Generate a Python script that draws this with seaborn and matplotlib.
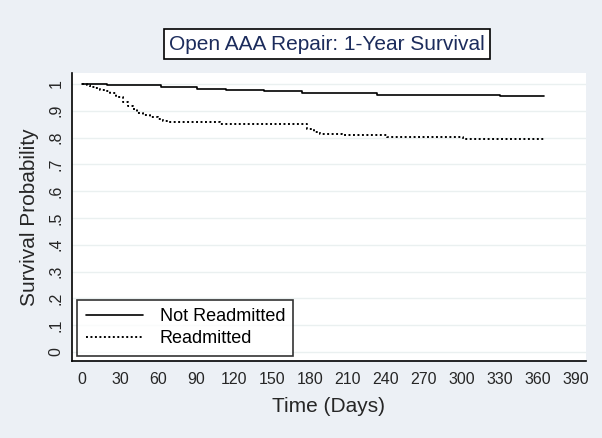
import matplotlib
matplotlib.use("Agg")
import matplotlib.pyplot as plt
import seaborn as sns
import pandas as pd

# survival curves (days, probability)
not_days = [0, 20, 62, 91, 114, 144, 174, 201, 233, 330, 365]
not_surv = [1.0, 0.995, 0.988, 0.981, 0.976, 0.973, 0.968, 0.965, 0.959, 0.955, 0.955]

re_days = [0, 4, 6, 10, 14, 18, 22, 27, 32, 36, 40, 43, 48, 54, 60, 64, 69,
           109, 178, 183, 188, 205, 241, 301, 365]
re_surv = [1.0, 0.995, 0.99, 0.985, 0.978, 0.972, 0.965, 0.95, 0.934, 0.918, 0.905,
           0.893, 0.886, 0.878, 0.868, 0.863, 0.857, 0.849, 0.832, 0.822, 0.815,
           0.81, 0.803, 0.794, 0.794]

x_ticks = list(range(0, 391, 30))
y_ticks = [i / 10 for i in range(11)]
y_labels = ["0", ".1", ".2", ".3", ".4", ".5", ".6", ".7", ".8", ".9", "1"]

sns.set_style("white")
plt.rcParams["font.family"] = ["Liberation Sans", "DejaVu Sans"]

bg = "#ECF0F5"
fig = plt.figure(figsize=(6.02, 4.38), dpi=100, facecolor=bg)
ax = fig.add_axes([0.1196, 0.1758, 0.8538, 0.6575])
ax.set_facecolor("white")

df_not = pd.DataFrame({"days": not_days, "surv": not_surv})
df_re = pd.DataFrame({"days": re_days, "surv": re_surv})

sns.lineplot(data=df_not, x="days", y="surv", ax=ax, color="black", linewidth=1.2,
             drawstyle="steps-post", estimator=None, label="Not Readmitted")
sns.lineplot(data=df_re, x="days", y="surv", ax=ax, color="black", linewidth=1.4,
             linestyle=(0, (1, 1.3)), drawstyle="steps-post", estimator=None,
             label="Readmitted")

ax.set_xlim(-8, 398)
ax.set_ylim(-0.034, 1.041)
ax.set_xticks(x_ticks)
ax.set_yticks(y_ticks)
ax.set_yticklabels(y_labels, rotation=90, va="center")
ax.tick_params(axis="both", direction="out", length=5, width=1, color="black",
               labelsize=11.5, pad=3)
ax.tick_params(axis="y", pad=1)
ax.grid(axis="y", color="#EAF0F0", linewidth=1)
ax.set_axisbelow(True)

for s in ["top", "right"]:
    ax.spines[s].set_visible(False)
for s in ["left", "bottom"]:
    ax.spines[s].set_color("black")
    ax.spines[s].set_linewidth(1.2)

ax.set_xlabel("Time (Days)", fontsize=15, labelpad=7)
ax.set_ylabel("Survival Probability", fontsize=15, labelpad=7)

leg = ax.legend(loc="lower left", fontsize=13, frameon=True, fancybox=False,
                edgecolor="black", handlelength=3.2, borderpad=0.45,
                labelspacing=0.3, handletextpad=0.9, borderaxespad=0.3)
leg.get_frame().set_linewidth(1.2)
for t in leg.get_texts():
    t.set_color("black")

fig.text(0.543, 0.8995, "Open AAA Repair: 1-Year Survival", ha="center", va="center",
         fontsize=15, color="#1C2C5C",
         bbox=dict(boxstyle="square,pad=0.25", facecolor="white", edgecolor="black",
                   linewidth=1.2))

fig.savefig("out.png", dpi=100, facecolor=bg)
